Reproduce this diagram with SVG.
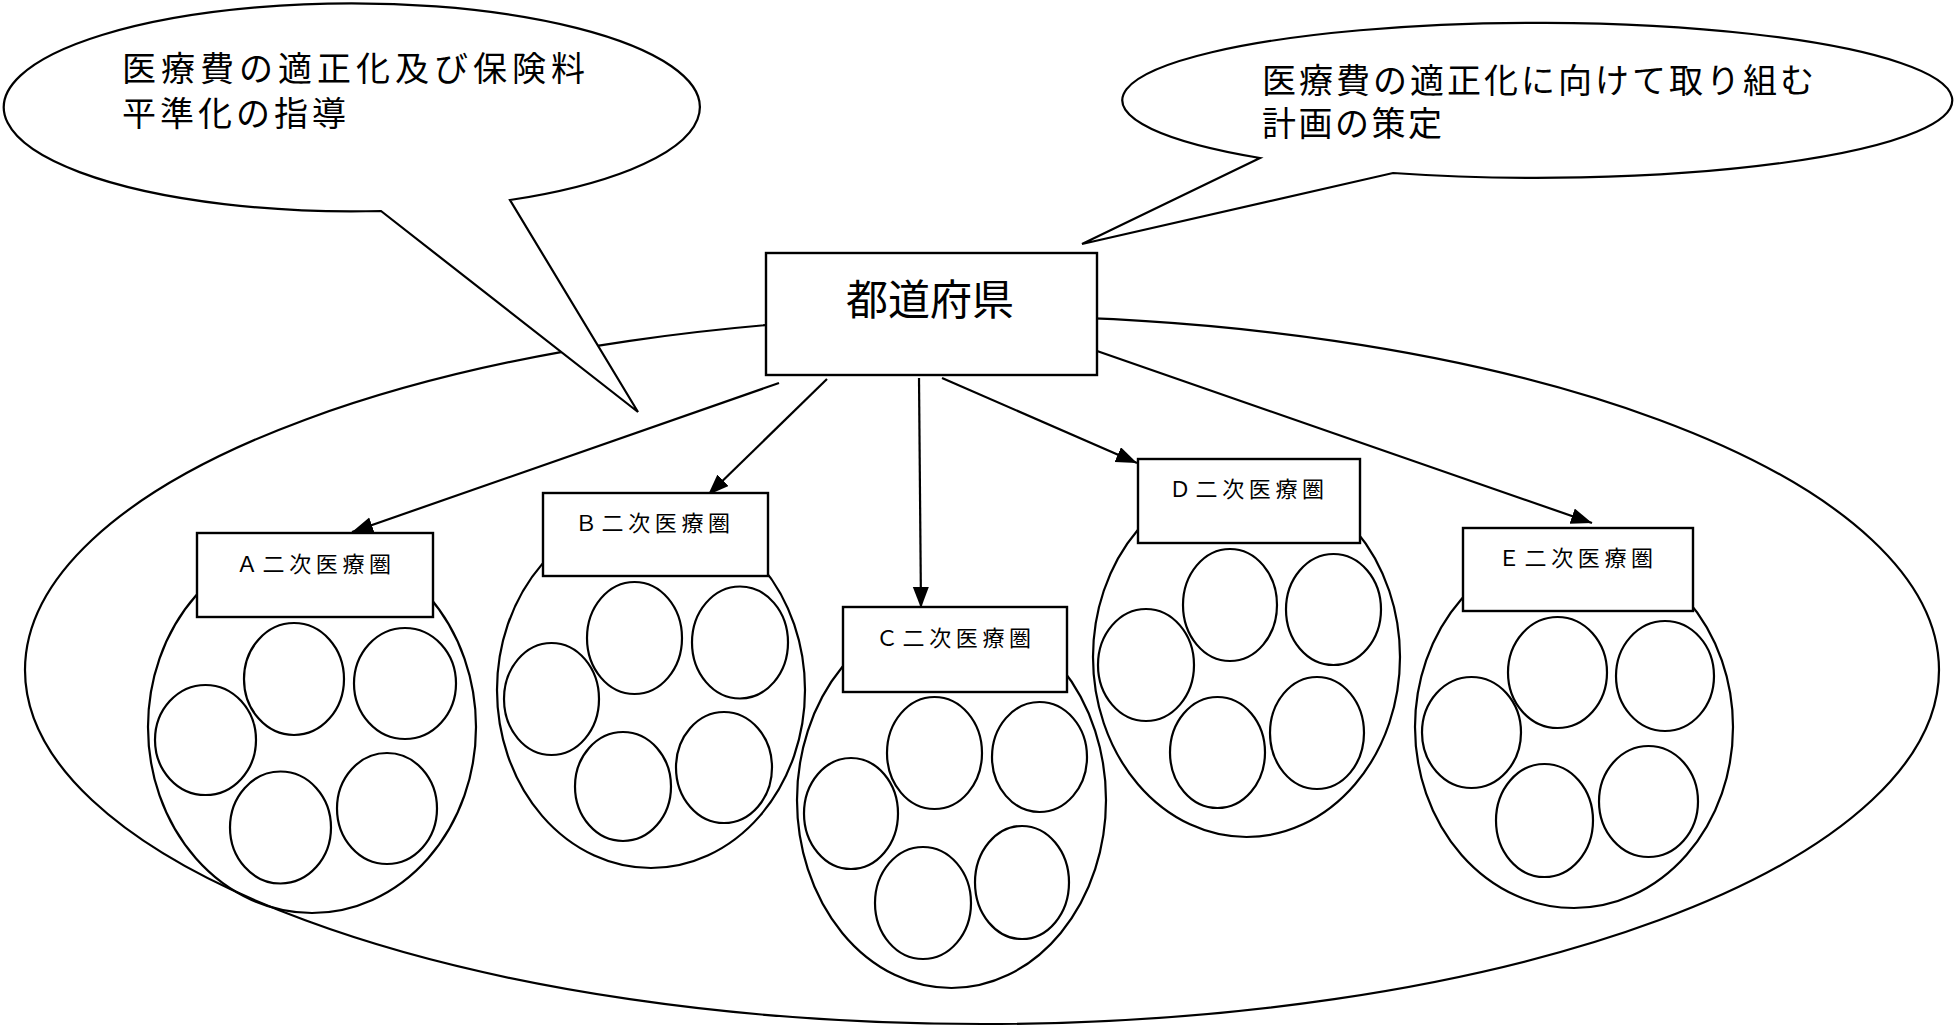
<svg xmlns="http://www.w3.org/2000/svg" width="1955" height="1027" viewBox="0 0 1955 1027">
<style>
.ln{fill:none;stroke:#000;stroke-width:2.2}
.bx{fill:#fff;stroke:#000;stroke-width:2.4}
.co{fill:#fff;stroke:#000;stroke-width:2.2;stroke-linejoin:miter}
.el{fill:none;stroke:#000;stroke-width:2.2}
.t{font-family:"Noto Sans CJK JP","Noto Sans CJK SC",sans-serif;fill:#000}
.big{font-size:34px}
.lab{font-size:22px;letter-spacing:4.6px}
</style>
<defs>
<marker id="ah" markerUnits="userSpaceOnUse" markerWidth="22" markerHeight="18" refX="21" refY="8" orient="auto">
<path d="M0,0 L21,8 L0,16 Z" fill="#000"/>
</marker>
</defs>
<rect width="1955" height="1027" fill="#fff"/>
<g id="region">
<ellipse class="el" cx="982" cy="670" rx="957" ry="354"/>
</g>
<g id="cluster-A">
<ellipse class="el" cx="312" cy="727" rx="164" ry="186"/>
<ellipse class="el" cx="294" cy="679" rx="50" ry="56"/>
<ellipse class="el" cx="405" cy="683.5" rx="51" ry="55.5"/>
<ellipse class="el" cx="205.5" cy="740" rx="50.5" ry="55"/>
<ellipse class="el" cx="280.5" cy="827.5" rx="50.5" ry="56"/>
<ellipse class="el" cx="387" cy="808.5" rx="50" ry="55.5"/>
</g>
<g id="cluster-B">
<ellipse class="el" cx="651" cy="690" rx="154" ry="178"/>
<ellipse class="el" cx="634.5" cy="638" rx="47.5" ry="56"/>
<ellipse class="el" cx="740" cy="642.5" rx="48" ry="56"/>
<ellipse class="el" cx="551.5" cy="699" rx="47.5" ry="56"/>
<ellipse class="el" cx="623" cy="786.5" rx="48" ry="54.5"/>
<ellipse class="el" cx="724" cy="767.5" rx="48" ry="55.5"/>
</g>
<g id="cluster-C">
<ellipse class="el" cx="951.5" cy="800" rx="154.5" ry="188"/>
<ellipse class="el" cx="934.5" cy="753" rx="47.5" ry="56"/>
<ellipse class="el" cx="1039.5" cy="757" rx="47.5" ry="55"/>
<ellipse class="el" cx="851" cy="813.5" rx="47" ry="55.5"/>
<ellipse class="el" cx="923" cy="903" rx="48" ry="56"/>
<ellipse class="el" cx="1022" cy="882.5" rx="47" ry="56.5"/>
</g>
<g id="cluster-D">
<ellipse class="el" cx="1246.5" cy="657" rx="153.5" ry="180"/>
<ellipse class="el" cx="1230" cy="605" rx="47" ry="56"/>
<ellipse class="el" cx="1333.5" cy="609.5" rx="47.5" ry="55.5"/>
<ellipse class="el" cx="1146" cy="665" rx="48" ry="56"/>
<ellipse class="el" cx="1217.5" cy="752.5" rx="47.5" ry="55.5"/>
<ellipse class="el" cx="1317" cy="733" rx="47" ry="56"/>
</g>
<g id="cluster-E">
<ellipse class="el" cx="1574" cy="727" rx="159" ry="181"/>
<ellipse class="el" cx="1557.5" cy="672.5" rx="49.5" ry="55.5"/>
<ellipse class="el" cx="1665" cy="676" rx="49" ry="55"/>
<ellipse class="el" cx="1471.5" cy="732.5" rx="49.5" ry="55.5"/>
<ellipse class="el" cx="1544.5" cy="820.5" rx="48.5" ry="56.5"/>
<ellipse class="el" cx="1648.5" cy="801.5" rx="49.5" ry="55.5"/>
</g>
<g id="connectors">
<line class="ln" x1="779" y1="383" x2="352" y2="532" marker-end="url(#ah)"/>
<line class="ln" x1="827" y1="379" x2="708" y2="495" marker-end="url(#ah)"/>
<line class="ln" x1="919" y1="378" x2="921" y2="608" marker-end="url(#ah)"/>
<line class="ln" x1="942" y1="378" x2="1137" y2="463" marker-end="url(#ah)"/>
<line class="ln" x1="1097" y1="351" x2="1592" y2="523" marker-end="url(#ah)"/>
</g>
<g id="box-A">
<rect class="bx" x="197" y="533" width="236" height="84"/>
<text class="t lab" x="236" y="572">Ａ二次医療圏</text>
</g>
<g id="box-B">
<rect class="bx" x="543" y="493" width="225" height="83"/>
<text class="t lab" x="575" y="531">Ｂ二次医療圏</text>
</g>
<g id="box-C">
<rect class="bx" x="843" y="607" width="224" height="85"/>
<text class="t lab" x="876" y="646">Ｃ二次医療圏</text>
</g>
<g id="box-D">
<rect class="bx" x="1138" y="459" width="222" height="84"/>
<text class="t lab" x="1169" y="497">Ｄ二次医療圏</text>
</g>
<g id="box-E">
<rect class="bx" x="1463" y="528" width="230" height="83"/>
<text class="t lab" x="1498" y="566">Ｅ二次医療圏</text>
</g>
<g id="prefecture">
<rect class="bx" x="766" y="253" width="331" height="122"/>
<text class="t" x="846" y="315" font-size="42">都道府県</text>
</g>
<g id="callout-left">
<path class="co" d="M381,211 A348,104 0 1 1 510,200 L638,412 Z"/>
<text class="t big" x="122" y="81" letter-spacing="5">医療費の適正化及び保険料</text>
<text class="t big" x="122" y="126" letter-spacing="4">平準化の指導</text>
</g>
<g id="callout-right">
<path class="co" d="M1260,158 A415,77.5 0 1 1 1393,173 L1082,244 Z"/>
<text class="t big" x="1262" y="93" letter-spacing="3">医療費の適正化に向けて取り組む</text>
<text class="t big" x="1262" y="136" letter-spacing="2.5">計画の策定</text>
</g>
</svg>
